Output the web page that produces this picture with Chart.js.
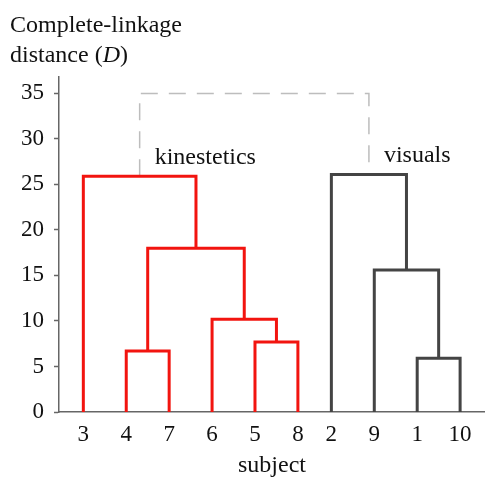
<!DOCTYPE html>
<html>
<head>
<meta charset="utf-8">
<script src="https://cdn.jsdelivr.net/npm/chart.js@4.4.1/dist/chart.umd.min.js"></script>
<style>
    body { margin: 0; background: #fff; }
    #wrap { width: 485px; height: 478px; }
</style>
</head>
<body>
<div id="wrap"><canvas id="dendro-chart" width="485" height="478"></canvas></div>
<script>
var leaves = ["3", "4", "7", "6", "5", "8", "2", "9", "1", "10"];
var leafX = [0, 1, 2, 3, 4, 5, 5.78, 6.78, 7.78, 8.78];
var yTicks = [0, 5, 10, 15, 20, 25, 30, 35];

// merge N joins mergeLeft[N] and mergeRight[N]; "mK" means merge K
var mergeLeft = ["4", "5", "6", "m0", "3", "1", "9", "2", "m4"];
var mergeRight = ["7", "8", "m1", "m2", "m3", "10", "m5", "m6", "m7"];
var mergeHeight = [6.7, 7.7, 10.2, 18.0, 25.9, 5.9, 15.6, 26.1, 35.0];
var mergeGroup = ["kin", "kin", "kin", "kin", "kin", "vis", "vis", "vis", "top"];

var groupNames = { kin: "kinestetics", vis: "visuals" };
var groupMerge = { kin: 4, vis: 7 };

var serif = "\"Times New Roman\", Times, \"Liberation Serif\", \"Noto Serif\", \"DejaVu Serif\", serif";

var groupStyle = {
    kin: { color: "#f2140f", width: 3, dash: [] },
    vis: { color: "#444444", width: 3, dash: [] },
    top: { color: "#bdbdbd", width: 1.5, dash: [17, 11] }
};

// position of a leaf or merge node
function nodePos(id) {
    if (id.charAt(0) === "m") {
        var k = parseInt(id.substring(1), 10);
        var a = nodePos(mergeLeft[k]);
        var b = nodePos(mergeRight[k]);
        return { x: (a.x + b.x) / 2, y: mergeHeight[k] };
    }
    return { x: leafX[leaves.indexOf(id)], y: 0 };
}

var datasets = [];
for (var i = 0; i < mergeLeft.length; i++) {
    var a = nodePos(mergeLeft[i]);
    var b = nodePos(mergeRight[i]);
    var st = groupStyle[mergeGroup[i]];
    datasets.push({
        data: [
            { x: a.x, y: a.y },
            { x: a.x, y: mergeHeight[i] },
            { x: b.x, y: mergeHeight[i] },
            { x: b.x, y: b.y }
        ],
        borderColor: st.color,
        borderWidth: st.width,
        borderDash: st.dash,
        borderJoinStyle: "miter",
        borderCapStyle: "butt",
        pointRadius: 0,
        tension: 0,
        fill: false,
        order: mergeGroup[i] === "top" ? 1 : 0
    });
}

// text: axis title at top left and the group names
var textPlugin = {
    id: "dendroText",
    afterDatasetsDraw: function (chart) {
        var ctx = chart.ctx;
        ctx.save();
        ctx.fillStyle = "#111";
        ctx.textBaseline = "alphabetic";
        ctx.textAlign = "left";
        ctx.font = "24px " + serif;
        ctx.fillText("Complete-linkage", 10, 32);
        var x = 10;
        ctx.fillText("distance (", x, 62);
        x += ctx.measureText("distance (").width;
        ctx.font = "italic 24px " + serif;
        ctx.fillText("D", x, 62);
        x += ctx.measureText("D").width;
        ctx.font = "24px " + serif;
        ctx.fillText(")", x, 62);

        var xs = chart.scales.x, ys = chart.scales.y;
        for (var g in groupMerge) {
            var p = nodePos("m" + groupMerge[g]);
            ctx.fillText(groupNames[g], xs.getPixelForValue(p.x) + 15, ys.getPixelForValue(p.y) - 12);
        }
        ctx.restore();
    }
};

function draw() {
    var myDendro = new Chart(document.getElementById("dendro-chart"), {
        type: "line",
        data: { datasets: datasets },
        options: {
            responsive: false,
            animation: false,
            layout: { padding: { top: 77, left: 0, right: 0, bottom: 0 } },
            plugins: {
                legend: { display: false },
                tooltip: { enabled: false }
            },
            scales: {
                x: {
                    type: "linear",
                    min: -0.567,
                    max: 9.36,
                    afterBuildTicks: function (scale) {
                        scale.ticks = leafX.map(function (v) { return { value: v }; });
                    },
                    afterFit: function (scale) { scale.height = 66; },
                    ticks: {
                        padding: 9,
                        color: "#111",
                        font: { family: serif, size: 23 },
                        callback: function (value, index) { return leaves[index]; }
                    },
                    grid: { display: false, drawTicks: false },
                    border: { color: "#666", width: 1.5 },
                    title: {
                        display: true,
                        text: "subject",
                        color: "#111",
                        font: { family: serif, size: 24 },
                        padding: { top: 0, bottom: -2 }
                    }
                },
                y: {
                    type: "linear",
                    min: 0,
                    max: 36.8,
                    afterBuildTicks: function (scale) {
                        scale.ticks = yTicks.map(function (v) { return { value: v }; });
                    },
                    afterFit: function (scale) { scale.width = 59; },
                    ticks: {
                        padding: 10,
                        color: "#111",
                        font: { family: serif, size: 23 }
                    },
                    grid: { drawOnChartArea: false, drawTicks: true, tickLength: 5, tickColor: "#666", tickWidth: 1.5 },
                    border: { color: "#666", width: 1.5 }
                }
            }
        },
        plugins: [textPlugin]
    });
}

draw();
</script>
</body>
</html>
